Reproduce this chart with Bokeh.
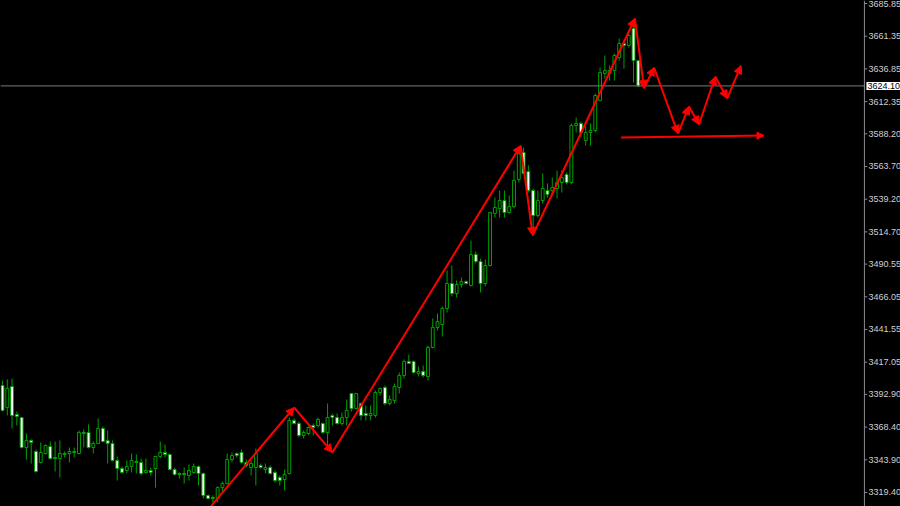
from bokeh.plotting import figure
from bokeh.models import (ColumnDataSource, Arrow, NormalHead, Range1d, GlobalInlineStyleSheet)
from bokeh.core.properties import value
from bokeh.embed import file_html
from bokeh.resources import INLINE

# ---- candle data ----
opens = [3399.6, 3383.1, 3398.8, 3377.9, 3375.6, 3353.1, 3358.4, 3350.1, 3341.9, 3348.6,
         3353.9, 3345.6, 3344.9, 3348.6, 3348.6, 3350.1, 3348.6, 3364.4, 3364.4, 3353.1,
         3356.1, 3367.4, 3358.4, 3356.1, 3343.4, 3337.4, 3335.9, 3338.9, 3342.6, 3341.9,
         3334.4, 3335.9, 3337.4, 3346.4, 3349.4, 3347.9, 3336.6, 3333.6, 3333.6, 3332.1,
         3334.4, 3338.9, 3333.6, 3317.2, 3315.7, 3314.9, 3323.1, 3326.1, 3344.1, 3348.6,
         3349.4, 3341.9, 3338.1, 3338.1, 3339.6, 3336.6, 3338.1, 3334.4, 3330.6, 3329.1,
         3333.6, 3373.4, 3371.1, 3362.1, 3363.6, 3369.6, 3369.6, 3371.1, 3364.4, 3377.1,
         3375.6, 3371.1, 3375.6, 3393.6, 3382.3, 3386.1, 3378.6, 3377.1, 3377.1, 3394.3,
         3398.1, 3386.1, 3388.3, 3398.1, 3407.1, 3417.6, 3417.6, 3408.6, 3410.1, 3406.3,
         3428.1, 3443.1, 3445.3, 3457.3, 3476.0, 3468.5, 3475.3, 3477.5, 3474.5, 3497.7,
         3492.5, 3476.0, 3489.5, 3528.5, 3532.2, 3538.2, 3529.2, 3533.7, 3554.0, 3574.2,
         3560.0, 3545.7, 3527.0, 3538.2, 3545.7, 3545.7, 3547.2, 3551.7, 3557.7, 3551.7,
         3594.4, 3595.9, 3583.2, 3589.2, 3590.7, 3613.2, 3633.4, 3633.4, 3635.6, 3645.4,
         3655.9, 3654.4, 3667.1, 3643.1]
highs = [3403.3, 3404.1, 3404.8, 3380.1, 3375.6, 3363.6, 3359.1, 3351.6, 3356.9, 3355.4,
         3357.6, 3357.6, 3358.4, 3350.1, 3353.1, 3353.1, 3365.9, 3366.6, 3370.4, 3357.6,
         3374.9, 3368.9, 3365.9, 3358.4, 3346.4, 3338.9, 3343.4, 3348.6, 3347.9, 3344.9,
         3344.9, 3338.1, 3346.4, 3357.6, 3355.4, 3348.6, 3338.1, 3334.4, 3338.1, 3340.4,
         3341.1, 3339.6, 3334.4, 3317.9, 3317.2, 3323.9, 3327.6, 3348.6, 3349.4, 3349.4,
         3351.6, 3344.1, 3343.4, 3352.4, 3341.1, 3341.1, 3339.6, 3335.9, 3332.1, 3336.6,
         3375.6, 3374.9, 3372.6, 3365.9, 3368.9, 3371.1, 3375.6, 3371.9, 3386.1, 3378.6,
         3378.6, 3379.3, 3389.1, 3393.6, 3393.6, 3386.8, 3384.6, 3384.6, 3395.8, 3398.1,
         3399.6, 3392.1, 3401.1, 3409.3, 3419.1, 3422.8, 3418.3, 3413.8, 3414.6, 3429.6,
         3449.8, 3453.5, 3458.8, 3485.8, 3489.5, 3478.3, 3480.5, 3478.3, 3508.2, 3500.0,
         3494.7, 3494.0, 3529.2, 3540.5, 3545.7, 3545.7, 3542.0, 3560.7, 3575.7, 3577.9,
         3564.5, 3547.2, 3545.7, 3558.5, 3551.0, 3555.5, 3560.7, 3560.7, 3559.2, 3595.9,
         3600.4, 3597.4, 3594.4, 3595.9, 3618.4, 3637.9, 3646.9, 3639.4, 3648.4, 3659.6,
         3658.1, 3663.4, 3673.1, 3643.1]
lows = [3380.1, 3377.1, 3367.4, 3369.6, 3352.4, 3344.1, 3341.1, 3334.4, 3341.1, 3347.9,
        3344.1, 3335.1, 3330.6, 3345.6, 3341.9, 3345.6, 3347.9, 3353.1, 3352.4, 3348.6,
        3356.1, 3356.9, 3341.1, 3342.6, 3328.4, 3333.6, 3333.6, 3334.4, 3333.6, 3332.1,
        3333.6, 3332.1, 3323.1, 3344.9, 3345.6, 3335.9, 3332.1, 3329.9, 3326.1, 3328.4,
        3333.6, 3324.6, 3314.9, 3314.2, 3311.9, 3311.9, 3319.4, 3325.4, 3341.9, 3345.6,
        3341.1, 3338.1, 3332.1, 3324.6, 3337.4, 3333.6, 3332.9, 3326.9, 3324.6, 3320.9,
        3332.9, 3370.4, 3360.6, 3359.9, 3362.1, 3362.1, 3368.1, 3363.6, 3353.1, 3369.6,
        3370.4, 3369.6, 3369.6, 3380.1, 3381.6, 3373.4, 3373.4, 3373.4, 3375.6, 3392.1,
        3384.6, 3384.6, 3386.1, 3393.6, 3404.8, 3416.1, 3408.6, 3406.3, 3405.6, 3403.3,
        3427.3, 3440.8, 3436.3, 3454.3, 3466.3, 3465.5, 3473.0, 3475.3, 3473.8, 3491.0,
        3469.3, 3473.8, 3488.8, 3525.5, 3525.5, 3525.5, 3528.5, 3532.2, 3551.7, 3557.7,
        3544.2, 3514.2, 3525.5, 3536.0, 3540.5, 3542.0, 3539.7, 3544.2, 3550.2, 3550.2,
        3589.2, 3585.4, 3579.4, 3579.4, 3589.2, 3613.2, 3629.6, 3628.1, 3628.1, 3643.1,
        3637.1, 3652.9, 3626.6, 3623.0]
closes = [3380.9, 3397.3, 3377.1, 3376.4, 3353.1, 3358.4, 3356.9, 3335.1, 3349.4, 3354.6,
          3344.9, 3344.9, 3348.6, 3347.9, 3350.1, 3349.4, 3364.4, 3363.6, 3353.1, 3356.1,
          3367.4, 3357.6, 3356.1, 3343.4, 3337.4, 3334.4, 3338.9, 3343.4, 3341.9, 3333.6,
          3335.9, 3334.4, 3346.4, 3349.4, 3347.9, 3336.6, 3332.9, 3332.9, 3332.9, 3335.9,
          3338.9, 3333.6, 3317.2, 3314.9, 3314.9, 3323.1, 3326.1, 3344.1, 3347.1, 3347.1,
          3341.9, 3339.6, 3341.1, 3348.6, 3338.1, 3338.1, 3333.6, 3328.4, 3328.4, 3332.9,
          3373.4, 3371.1, 3362.1, 3364.4, 3368.1, 3368.1, 3374.1, 3364.4, 3375.6, 3375.6,
          3371.1, 3375.6, 3380.9, 3382.3, 3393.6, 3377.1, 3377.1, 3378.6, 3394.3, 3397.3,
          3386.1, 3389.1, 3398.8, 3407.1, 3417.6, 3416.1, 3409.3, 3410.1, 3407.1, 3428.1,
          3443.1, 3447.5, 3457.3, 3476.0, 3468.5, 3475.3, 3477.5, 3476.0, 3497.7, 3492.5,
          3476.0, 3489.5, 3529.2, 3533.0, 3538.2, 3529.2, 3533.7, 3553.2, 3573.4, 3558.5,
          3545.7, 3527.0, 3538.2, 3547.2, 3542.7, 3548.0, 3551.7, 3555.5, 3551.7, 3594.4,
          3595.9, 3589.2, 3589.2, 3590.7, 3616.9, 3634.1, 3635.6, 3635.6, 3646.9, 3655.9,
          3654.4, 3661.9, 3643.1, 3624.1]

price_ticks = [3319.40, 3343.90, 3368.40, 3392.90, 3417.05, 3441.55, 3466.05, 3490.55,
               3514.70, 3539.20, 3563.70, 3588.20, 3612.35, 3636.85, 3661.35, 3685.85]
current_price = 3624.10

# hand-drawn annotation (bar index, price)
zigzag_bar = [43.6, 61.0, 69.0, 108.4, 110.9, 132.3, 134.2, 136.3, 141.3, 143.6,
              145.7, 149.1, 151.6, 154.5]
zigzag_price = [3309.0, 3383.1, 3349.4, 3579.4, 3512.0, 3674.6, 3622.2, 3637.9, 3588.4,
                3608.7, 3595.2, 3631.1, 3614.7, 3639.4]
support_bar = [129.4, 159.3]
support_price = [3585.4, 3586.9]

# ---- layout constants ----
X_START, X_END = -0.42, 187.85      # visible bar range (whole canvas)
AXIS_X = 180.3                      # price-scale line position (bar units)
TICK_LEN = 0.6                      # tick length (bar units)
Y_START, Y_END = 3308.9, 3688.1
GREEN = "#00a000"
AXIS_COLOR = "#8c8c8c"
FONT = value("Liberation Sans")

idx = list(range(len(opens)))
bull = [c > o for o, c in zip(opens, closes)]
src_bull = ColumnDataSource(dict(
    x=[i for i, b in zip(idx, bull) if b],
    top=[max(o, c) for o, c, b in zip(opens, closes, bull) if b],
    bottom=[min(o, c) for o, c, b in zip(opens, closes, bull) if b]))
src_bear = ColumnDataSource(dict(
    x=[i for i, b in zip(idx, bull) if not b],
    top=[max(o, c) for o, c, b in zip(opens, closes, bull) if not b],
    bottom=[min(o, c) for o, c, b in zip(opens, closes, bull) if not b]))
src_wick = ColumnDataSource(dict(x=idx, high=highs, low=lows))

p = figure(width=900, height=506, output_backend="svg", toolbar_location=None,
           x_range=Range1d(X_START, X_END), y_range=Range1d(Y_START, Y_END),
           x_axis_location=None, y_axis_location=None,
           background_fill_color="black", border_fill_color="black",
           min_border=0)
p.outline_line_color = None
p.grid.visible = False
p.stylesheets = [GlobalInlineStyleSheet(
    css="html, body { background: #000000; margin: 0; padding: 0; overflow: hidden; }")]

# candles
p.segment(x0="x", y0="low", x1="x", y1="high", source=src_wick, line_color=GREEN, line_width=1)
p.vbar(x="x", top="top", bottom="bottom", width=0.6, source=src_bull,
       fill_color="black", line_color=GREEN, line_width=1)
p.vbar(x="x", top="top", bottom="bottom", width=0.6, source=src_bear,
       fill_color="white", line_color=GREEN, line_width=1)

# current price line
p.segment(x0=[X_START], y0=[current_price], x1=[AXIS_X], y1=[current_price],
          line_color="#7a7a7a", line_width=1)

# drawn zigzag projection
zz = ColumnDataSource(dict(x0=zigzag_bar[:-1], y0=zigzag_price[:-1],
                           x1=zigzag_bar[1:], y1=zigzag_price[1:]))
p.add_layout(Arrow(end=NormalHead(size=8, fill_color="#ff0000", line_color="#ff0000"),
                   x_start="x0", y_start="y0", x_end="x1", y_end="y1", source=zz,
                   line_color="#ff0000", line_width=2))
p.add_layout(Arrow(end=NormalHead(size=7, fill_color="#ff0000", line_color="#ff0000"),
                   x_start=support_bar[0], y_start=support_price[0],
                   x_end=support_bar[1], y_end=support_price[1],
                   line_color="#ff0000", line_width=2))

# price scale on the right
p.segment(x0=[AXIS_X], y0=[Y_START], x1=[AXIS_X], y1=[Y_END], line_color=AXIS_COLOR, line_width=1)
p.segment(x0=[AXIS_X] * len(price_ticks), y0=price_ticks,
          x1=[AXIS_X + TICK_LEN] * len(price_ticks), y1=price_ticks,
          line_color=AXIS_COLOR, line_width=1)
p.text(x=[AXIS_X] * len(price_ticks), y=price_ticks,
       text=[f"{t:.2f}" for t in price_ticks], x_offset=4,
       text_font=FONT, text_font_size="9px", text_color="#cfcfcf",
       text_baseline="middle", text_align="left")
p.text(x=[AXIS_X], y=[current_price], text=[f"{current_price:.2f}"], x_offset=2,
       text_font=FONT, text_font_size="9px", text_color="black",
       text_baseline="middle", text_align="left",
       background_fill_color="white", border_line_color=None, padding=1)

open("out.html", "w").write(file_html(p, INLINE))
